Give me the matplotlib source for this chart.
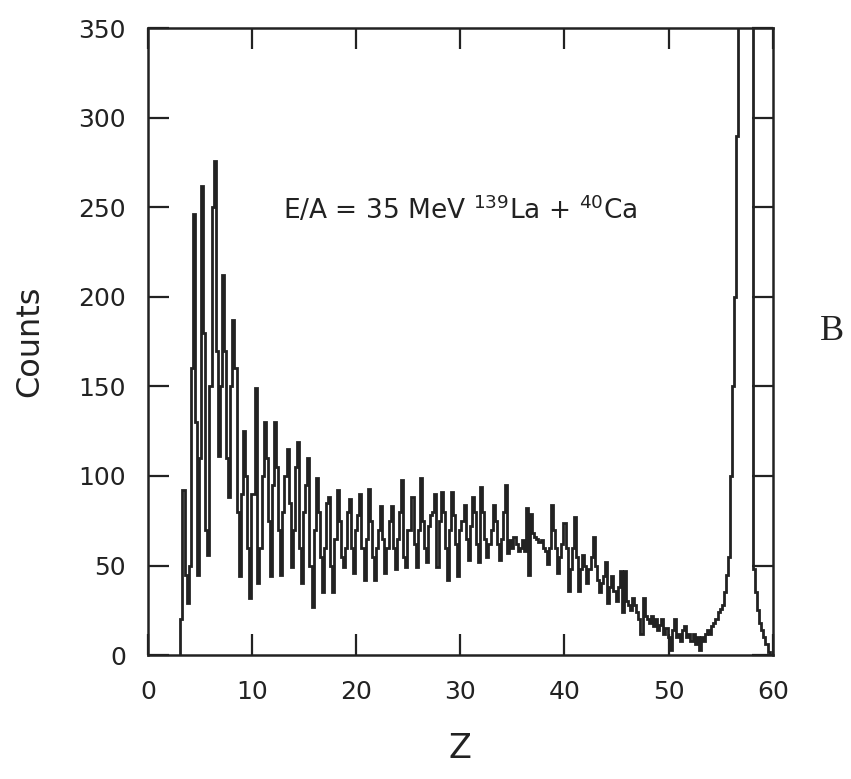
import numpy as np
import matplotlib
matplotlib.use("Agg")
import matplotlib.pyplot as plt

plt.rcParams['font.family'] = ['DejaVu Sans']
plt.rcParams['mathtext.fontset'] = 'dejavusans'

# Histogram definition: first bin edge and bin width in Z
z_first_edge = 3.1
z_bin_width = 0.2

# Counts per bin, one row per unit of Z (bins at n.1, n.3, n.5, n.7, n.9)
counts_z03 = [20, 92, 45, 29, 50]
counts_z04 = [160, 246, 130, 45, 110]
counts_z05 = [262, 180, 70, 56, 150]
counts_z06 = [250, 276, 170, 111, 150]
counts_z07 = [212, 170, 110, 88, 150]
counts_z08 = [187, 160, 80, 44, 90]
counts_z09 = [125, 100, 60, 32, 90]
counts_z10 = [90, 149, 40, 60, 100]
counts_z11 = [130, 110, 75, 44, 95]
counts_z12 = [130, 105, 70, 45, 80]
counts_z13 = [100, 115, 85, 49, 70]
counts_z14 = [105, 119, 60, 40, 80]
counts_z15 = [95, 110, 50, 27, 70]
counts_z16 = [99, 80, 55, 35, 60]
counts_z17 = [85, 88, 50, 35, 65]
counts_z18 = [92, 75, 55, 49, 60]
counts_z19 = [80, 87, 60, 46, 70]
counts_z20 = [78, 90, 60, 42, 65]
counts_z21 = [93, 75, 55, 42, 60]
counts_z22 = [70, 83, 65, 46, 60]
counts_z23 = [75, 83, 60, 48, 65]
counts_z24 = [80, 98, 55, 49, 70]
counts_z25 = [70, 88, 62, 49, 70]
counts_z26 = [99, 75, 60, 52, 72]
counts_z27 = [78, 80, 90, 49, 75]
counts_z28 = [91, 80, 60, 42, 70]
counts_z29 = [91, 78, 62, 44, 70]
counts_z30 = [75, 84, 65, 53, 72]
counts_z31 = [88, 80, 62, 52, 94]
counts_z32 = [80, 65, 55, 62, 70]
counts_z33 = [84, 75, 62, 53, 65]
counts_z34 = [80, 95, 57, 64, 60]
counts_z35 = [66, 62, 58, 60, 64]
counts_z36 = [58, 82, 45, 79, 68]
counts_z37 = [66, 65, 63, 64, 60]
counts_z38 = [58, 51, 60, 84, 70]
counts_z39 = [60, 46, 55, 62, 74]
counts_z40 = [60, 36, 48, 60, 77]
counts_z41 = [55, 36, 48, 56, 50]
counts_z42 = [40, 48, 55, 66, 50]
counts_z43 = [42, 35, 40, 44, 52]
counts_z44 = [29, 38, 44, 36, 30]
counts_z45 = [38, 47, 24, 47, 30]
counts_z46 = [28, 25, 32, 28, 24]
counts_z47 = [20, 12, 32, 22, 20]
counts_z48 = [18, 22, 16, 20, 14]
counts_z49 = [17, 20, 12, 15, 10]
counts_z50 = [3, 14, 20, 10, 12]
counts_z51 = [8, 14, 16, 10, 12]
counts_z52 = [8, 12, 6, 10, 3]
counts_z53 = [10, 8, 12, 14, 12]
counts_z54 = [16, 18, 20, 24, 26]
counts_z55 = [28, 35, 45, 55, 100]
counts_z56 = [150, 200, 290, 600, 1500]
counts_z57 = [3000, 4000, 3500, 1800, 700]
counts_z58 = [48, 35, 25, 18, 14]
counts_z59 = [10, 6, 2]

x_ticks = [0, 10, 20, 30, 40, 50, 60]
y_ticks = [0, 50, 100, 150, 200, 250, 300, 350]
x_label = "Z"
y_label = "Counts"
annotation = r"E/A = 35 MeV $^{139}$La + $^{40}$Ca"
panel_label = "B"

counts = np.array(
    counts_z03 + counts_z04 + counts_z05 + counts_z06 + counts_z07 + counts_z08
    + counts_z09 + counts_z10 + counts_z11 + counts_z12 + counts_z13 + counts_z14
    + counts_z15 + counts_z16 + counts_z17 + counts_z18 + counts_z19 + counts_z20
    + counts_z21 + counts_z22 + counts_z23 + counts_z24 + counts_z25 + counts_z26
    + counts_z27 + counts_z28 + counts_z29 + counts_z30 + counts_z31 + counts_z32
    + counts_z33 + counts_z34 + counts_z35 + counts_z36 + counts_z37 + counts_z38
    + counts_z39 + counts_z40 + counts_z41 + counts_z42 + counts_z43 + counts_z44
    + counts_z45 + counts_z46 + counts_z47 + counts_z48 + counts_z49 + counts_z50
    + counts_z51 + counts_z52 + counts_z53 + counts_z54 + counts_z55 + counts_z56
    + counts_z57 + counts_z58 + counts_z59, dtype=float)
edges = z_first_edge + z_bin_width * np.arange(len(counts) + 1)

fig = plt.figure(figsize=(8.51, 7.79), dpi=100)
ax = fig.add_axes([0.174, 0.159, 0.734, 0.805])

ink = "#222222"
ax.stairs(counts, edges, baseline=0, color=ink, linewidth=2.0)

ax.set_xlim(0, 60)
ax.set_ylim(0, 350)
ax.set_xticks(x_ticks)
ax.set_yticks(y_ticks)
ax.tick_params(direction='in', length=15, width=1.6, colors=ink,
               labelsize=18, top=True, right=True)
ax.tick_params(axis='y', pad=16)
ax.tick_params(axis='x', pad=18)
for s in ax.spines.values():
    s.set_linewidth(1.8)
    s.set_color(ink)
for lab in ax.get_xticklabels() + ax.get_yticklabels():
    lab.set_color(ink)

ax.set_xlabel(x_label, fontsize=24, color=ink, labelpad=20)
ax.set_ylabel(y_label, fontsize=23, color=ink, labelpad=24)

ax.text(0.216, 0.71, annotation, transform=ax.transAxes, fontsize=19,
        color=ink, ha='left', va='center')
fig.text(0.978, 0.575, panel_label, fontsize=26, color=ink,
         family='Liberation Serif', ha='center', va='center')

fig.savefig("out.png", dpi=100)
